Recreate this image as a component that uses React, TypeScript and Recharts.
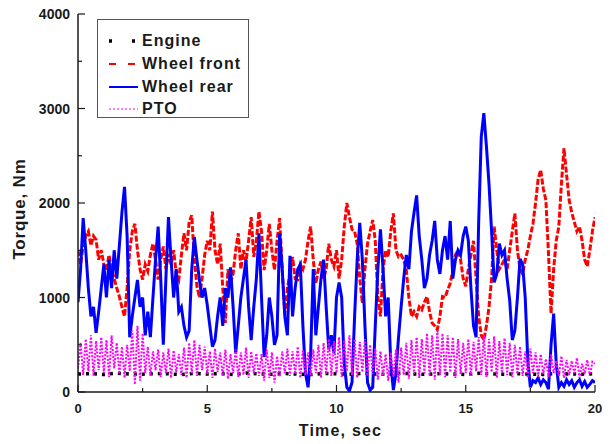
import { LineChart, Line, XAxis, YAxis, Legend, Label } from 'recharts'

// sampled every 0.1 s, one row per second
const wheelRear = [
  950, 1300, 1840, 1500, 1100, 800, 900, 625, 850, 1100,
  1350, 1000, 1400, 1100, 1500, 1200, 1550, 1900, 2170, 1650,
  580, 800, 1000, 1185, 900, 1000, 600, 850, 580, 1000,
  1400, 1750, 1200, 500, 1200, 1850, 1400, 1000, 1300, 850,
  900, 700, 580, 650, 1300, 1640, 1400, 1180, 1000, 1100,
  920, 700, 480, 550, 800, 1000, 700, 1100, 1000, 1320,
  900, 410, 700, 1000, 1200, 1400, 900, 550, 900, 1200,
  1680, 1000, 370, 600, 1000, 800, 500, 600, 1680, 1300,
  800, 600, 1440, 800, 1100, 1300, 1350, 700, 200, 50,
  400, 1300, 600, 900, 1200, 1400, 900, 450, 600, 410,
  1000, 1160, 1000, 300, 50, 10, 100, 800, 1400, 1790,
  1400, 700, 100, 20, 50, 700, 1300, 1720, 1300, 800,
  1000, 300, 20, 200, 580, 900, 1200, 1450, 1300, 1700,
  1900, 2080, 1650, 1400, 1100, 1200, 1450, 1600, 1810, 1400,
  1250, 1500, 1650, 1400, 1810, 1200, 1400, 1500, 1450, 1650,
  1750, 1600, 1100, 700, 580, 1800, 2700, 2950, 2600, 2200,
  1700, 1160, 1250, 1570, 1450, 1500, 1200, 970, 550, 650,
  1000, 1410, 1350, 1000, 340, 50, 120, 100, 150, 80,
  130, 100, 30, 500, 830, 300, 50, 100, 60, 130,
  80, 120, 50, 100, 130, 60, 110, 50, 80, 120,
  100,
]

const wheelFront = [
  1500, 1350, 1550, 1650, 1700, 1550, 1650, 1610, 1400, 1500,
  1350, 1290, 1450, 1300, 1200, 1100, 1010, 900, 800, 1100,
  1500, 1700, 1780, 1500, 1300, 1190, 1350, 1280, 1450, 1570,
  1400, 1190, 1400, 1540, 1300, 1460, 1350, 1500, 1250, 1190,
  1450, 1680, 1500, 1800, 1870, 1400, 1120, 1000, 1200, 1450,
  1600, 1500, 1910, 1500, 1350, 1570, 1100, 730, 1300, 1150,
  1250, 1500, 1680, 1300, 1500, 1380, 1600, 1850, 1430, 1600,
  1910, 1700, 1290, 1500, 1780, 1500, 1290, 1600, 1840, 1300,
  830, 1100, 1250, 1430, 1200, 1190, 1350, 1300, 1400, 1600,
  1750, 1400, 1150, 1300, 1380, 1200, 1300, 1570, 1400, 1330,
  1500, 1200, 1400, 1750, 2000, 1850, 1720, 1700, 1570, 1200,
  940, 1300, 1570, 1700, 1820, 1600, 1000, 800, 1300, 1500,
  1430, 1700, 1890, 1500, 1430, 1450, 1400, 1290, 1000, 800,
  850, 800, 900, 870, 950, 1010, 850, 730, 700, 660,
  800, 1010, 1000, 1080, 1150, 1290, 1450, 1500, 1400, 1200,
  1120, 1300, 1450, 1600, 1200, 800, 600, 550, 700, 900,
  1200, 1750, 1500, 1300, 1350, 1400, 1300, 1500, 1700, 1890,
  1500, 1300, 1250, 1400, 1500, 1650, 1780, 2000, 2250, 2350,
  2150, 2030, 1470, 830, 1300, 1600, 1750, 2200, 2580, 2300,
  2030, 1900, 1800, 1700, 1750, 1600, 1400, 1330, 1500, 1700,
  1850,
]

const pto = [
  250, 520, 180, 560, 220, 600, 170, 540, 230, 580,
  200, 550, 160, 600, 250, 520, 190, 480, 150, 500,
  220, 650, 80, 700, 120, 620, 200, 480, 170, 430,
  230, 450, 160, 420, 200, 460, 150, 440, 210, 400,
  180, 470, 150, 520, 200, 550, 170, 500, 230, 480,
  190, 430, 150, 460, 210, 420, 170, 450, 140, 400,
  200, 450, 160, 420, 180, 470, 150, 430, 200, 410,
  170, 400, 120, 450, 150, 420, 100, 380, 160, 430,
  200, 460, 170, 430, 190, 480, 150, 440, 180, 420,
  170, 450, 200, 500, 150, 520, 190, 560, 170, 540,
  200, 580, 160, 550, 220, 600, 180, 560, 150, 530,
  210, 560, 170, 500, 190, 460, 130, 430, 170, 400,
  120, 420, 160, 450, 100, 470, 180, 520, 140, 550,
  190, 580, 150, 560, 200, 620, 170, 600, 130, 650,
  180, 620, 160, 600, 210, 580, 150, 560, 190, 520,
  200, 560, 170, 530, 220, 580, 180, 600, 160, 560,
  210, 590, 150, 540, 200, 570, 180, 520, 160, 500,
  190, 480, 170, 430, 150, 460, 200, 420, 160, 400,
  190, 350, 160, 400, 200, 330, 170, 380, 150, 340,
  180, 330, 200, 360, 150, 300, 190, 340, 170, 320,
  300,
]

// every 0.5 s
const engine = [
  190, 195, 185, 200, 190, 188, 196, 192, 185, 198,
  190, 194, 186, 200, 192, 188, 195, 190, 184, 197,
  192, 189, 196, 190, 186, 199, 191, 187, 195, 190,
  185, 198, 192, 188, 194, 190, 186, 196, 191, 189,
  193,
]

const xTicks = [0, 2.5, 5, 7.5, 10, 12.5, 15, 17.5, 20]
const yTicks = [0, 500, 1000, 1500, 2000, 2500, 3000, 3500, 4000]

const rows = wheelRear.map((v, i) => ({
  t: i / 10,
  rear: v,
  front: wheelFront[i],
  pto: pto[i],
}))
const engineRows = engine.map((v, i) => ({ t: i / 2, engine: v }))

const FONT = '"Liberation Sans", Arial, sans-serif'
const INK = '#1a1a1a'

function XTick({ x, y, payload }: any) {
  const major = payload.value % 5 === 0
  return (
    <g>
      <line x1={x} x2={x} y1={y} y2={y - (major ? 7 : 4)} stroke={INK} strokeWidth={1.2} />
      {major && (
        <text x={x} y={y + 21} textAnchor="middle" fontFamily={FONT} fontWeight="bold" fontSize={13} fill={INK}>
          {payload.value}
        </text>
      )}
    </g>
  )
}

function YTick({ x, y, payload }: any) {
  const major = payload.value % 1000 === 0
  return (
    <g>
      <line x1={x} x2={x + (major ? 7 : 4)} y1={y} y2={y} stroke={INK} strokeWidth={1.2} />
      {major && (
        <text x={x - 8} y={y + 5} textAnchor="end" fontFamily={FONT} fontWeight="bold" fontSize={14} fill={INK}>
          {payload.value}
        </text>
      )}
    </g>
  )
}

const legendItems = [
  { name: 'Engine', color: '#000', dash: '3 20', width: 3.5 },
  { name: 'Wheel front', color: '#ff0000', dash: '7 12', width: 2 },
  { name: 'Wheel rear', color: '#0000ff', dash: undefined, width: 2 },
  { name: 'PTO', color: '#ff00ff', dash: '2 2', width: 1.2 },
]

function LegendBox() {
  return (
    <div style={{ width: 152, height: 99, boxSizing: 'border-box', border: '1.2px solid #555', background: '#fff', paddingTop: 10 }}>
      {legendItems.map((it) => (
        <div key={it.name} style={{ height: 22.7, display: 'flex', alignItems: 'center' }}>
          <svg width={44} height={10} style={{ marginLeft: 10 }}>
            <line x1={1} x2={30} y1={5} y2={5} stroke={it.color} strokeWidth={it.width} strokeDasharray={it.dash} />
          </svg>
          <span style={{ fontFamily: FONT, fontWeight: 'bold', fontSize: 16, letterSpacing: 1, color: INK, marginLeft: -10 }}>
            {it.name}
          </span>
        </div>
      ))}
    </div>
  )
}

export default function App() {
  return (
    <div style={{ position: 'absolute', left: 0, top: 0, background: '#fff' }}>
      <LineChart width={610} height={444} data={rows} margin={{ top: 14, right: 15, left: 0, bottom: 0 }}>
        <XAxis
          dataKey="t"
          type="number"
          domain={[0, 20]}
          ticks={xTicks}
          interval={0}
          height={52}
          tickSize={0}
          tickMargin={0}
          tickLine={false}
          tick={<XTick />}
          axisLine={{ stroke: INK, strokeWidth: 1.5 }}
          allowDataOverflow
        >
          <Label
            content={({ viewBox }: any) => (
              <text
                x={viewBox.x + viewBox.width / 2 + 4}
                y={viewBox.y + 44}
                textAnchor="middle"
                fontFamily={FONT}
                fontWeight="bold"
                fontSize={16}
                letterSpacing={1.2}
                fill={INK}
              >
                Time, sec
              </text>
            )}
          />
        </XAxis>
        <XAxis xAxisId="top" orientation="top" type="number" domain={[0, 20]} height={0} tick={false} tickLine={false} axisLine={{ stroke: INK, strokeWidth: 1.5 }} />
        <YAxis
          type="number"
          domain={[0, 4000]}
          ticks={yTicks}
          interval={0}
          width={78}
          tickSize={0}
          tickMargin={0}
          tickLine={false}
          tick={<YTick />}
          axisLine={{ stroke: INK, strokeWidth: 1.5 }}
          allowDataOverflow
        >
          <Label
            content={({ viewBox }: any) => {
              const cx = viewBox.x + 19.5
              const cy = viewBox.y + viewBox.height / 2 + 6
              return (
                <text
                  x={cx}
                  y={cy}
                  transform={`rotate(-90 ${cx} ${cy})`}
                  textAnchor="middle"
                  dominantBaseline="central"
                  fontFamily={FONT}
                  fontWeight="bold"
                  fontSize={17}
                  letterSpacing={0.8}
                  fill={INK}
                >
                  Torque, Nm
                </text>
              )
            }}
          />
        </YAxis>
        <YAxis yAxisId="right" orientation="right" type="number" domain={[0, 4000]} width={0} tick={false} tickLine={false} axisLine={{ stroke: INK, strokeWidth: 1.5 }} />
        <Legend
          layout="vertical"
          align="center"
          verticalAlign="middle"
          content={() => <LegendBox />}
          wrapperStyle={{ left: 97, top: 19, width: 152, height: 99 }}
        />
        <Line
          data={engineRows}
          dataKey="engine"
          name="Engine"
          stroke="#000"
          strokeWidth={3.5}
          strokeDasharray="3 5"
          dot={false}
          isAnimationActive={false}
        />
        <Line dataKey="front" name="Wheel front" stroke="#ff0000" strokeWidth={3} strokeDasharray="6 2" dot={false} isAnimationActive={false} />
        <Line dataKey="rear" name="Wheel rear" stroke="#0000ff" strokeWidth={3} dot={false} isAnimationActive={false} />
        <Line dataKey="pto" name="PTO" stroke="#ff00ff" strokeWidth={2} strokeDasharray="2 1.5" dot={false} isAnimationActive={false} />
      </LineChart>
    </div>
  )
}
